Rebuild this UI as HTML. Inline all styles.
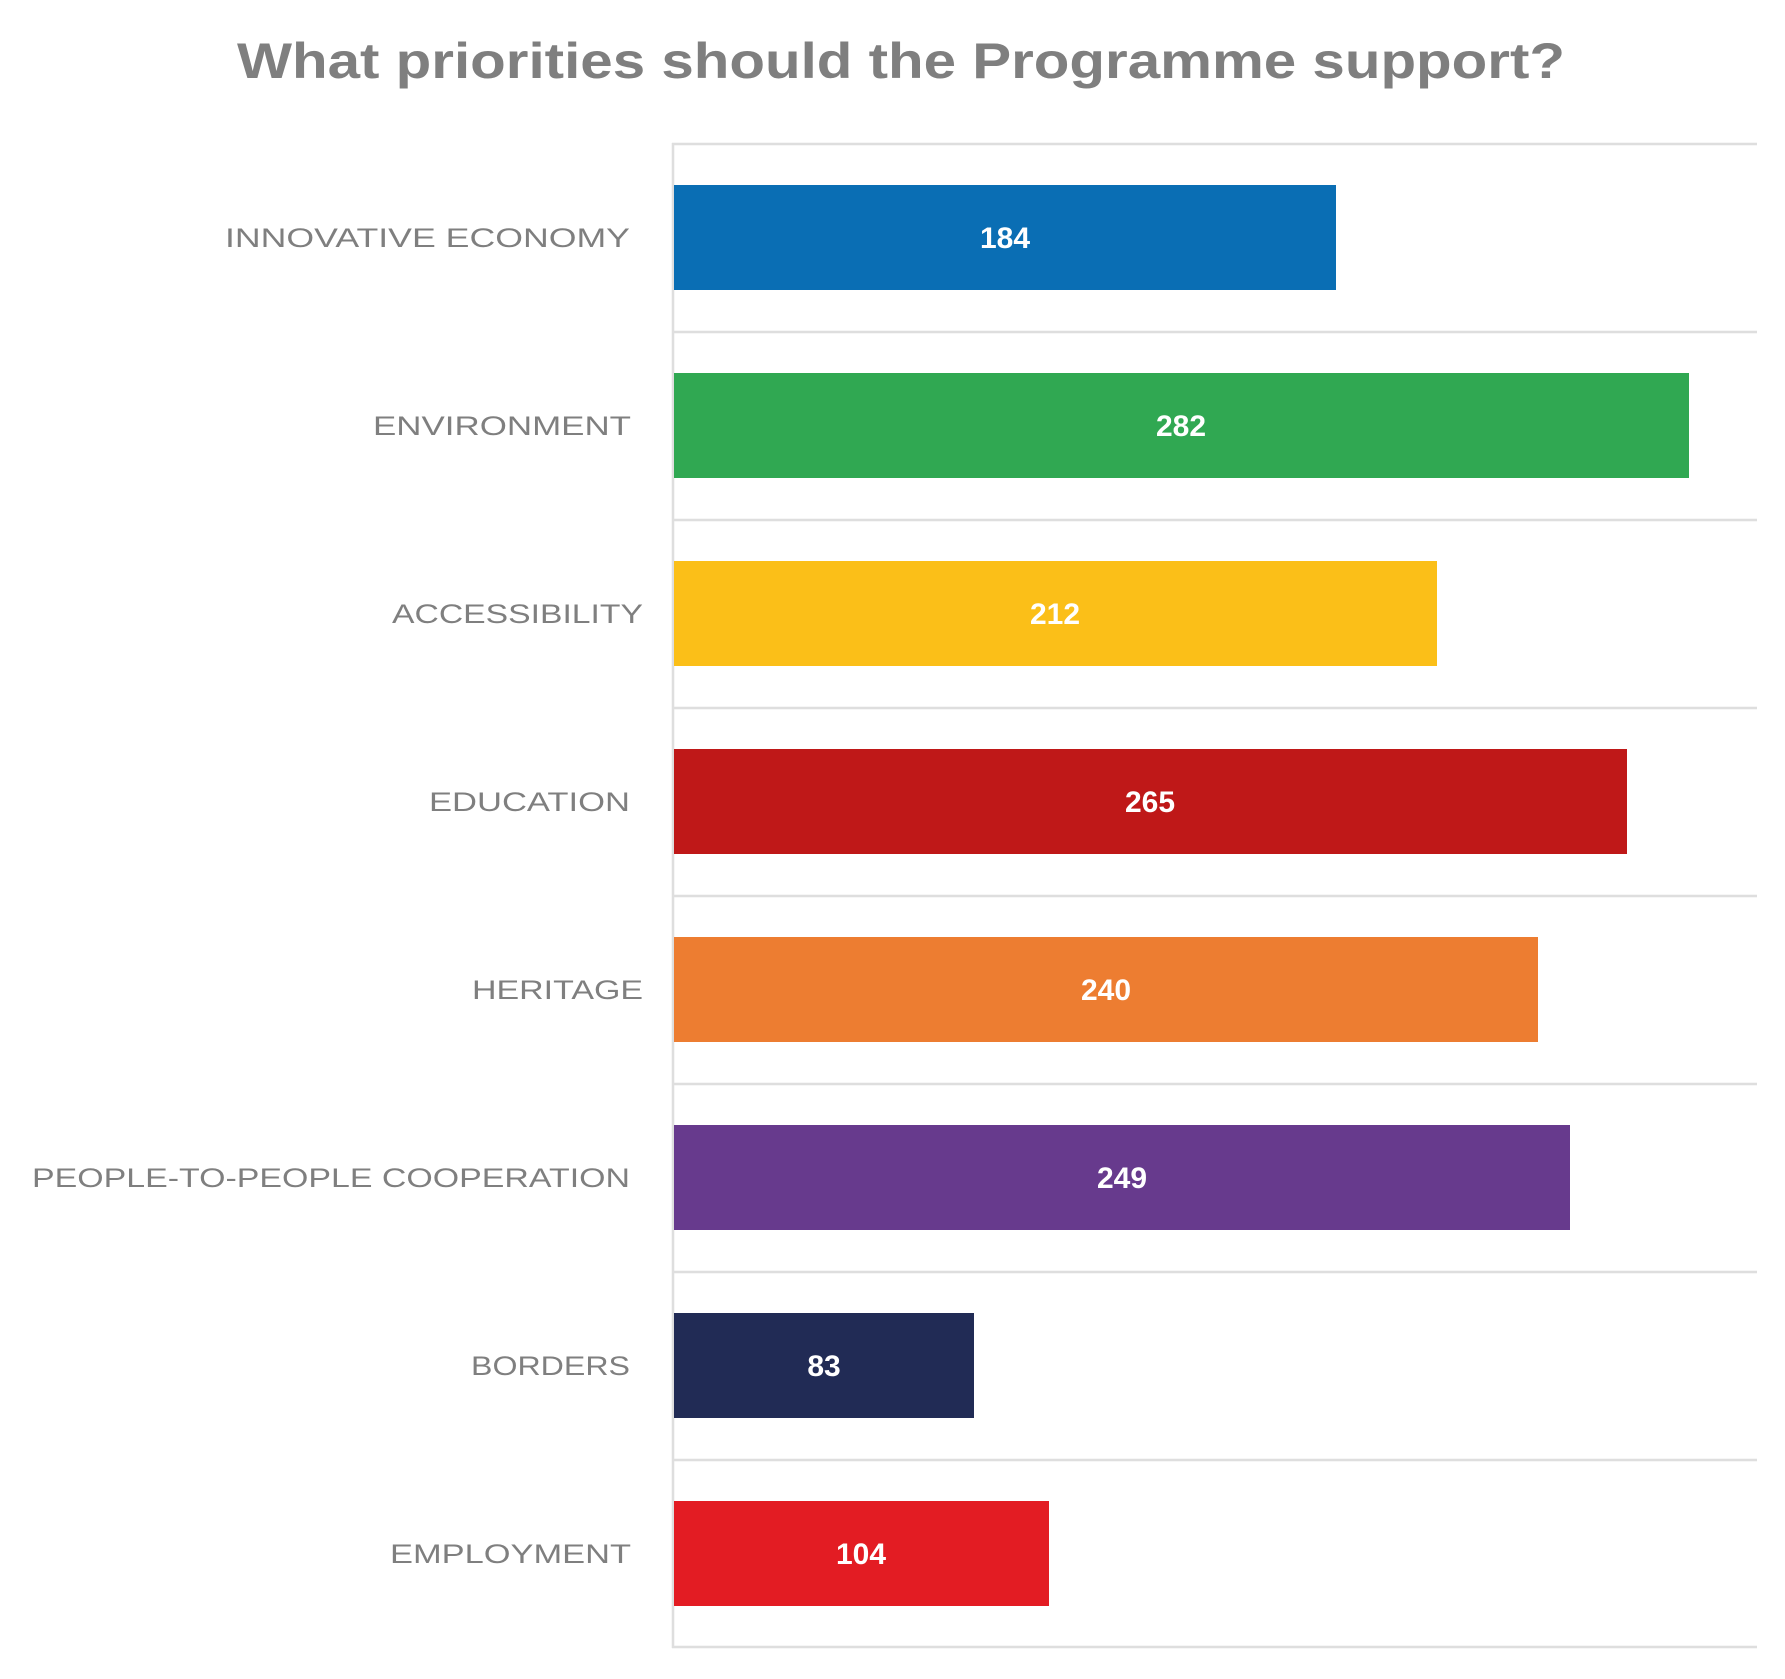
<!DOCTYPE html>
<html><head><meta charset="utf-8"><style>html,body{margin:0;padding:0;background:#fff}svg{display:block}</style></head>
<body>
<svg width="1785" height="1679" viewBox="0 0 1785 1679" xmlns="http://www.w3.org/2000/svg" font-family="'Liberation Sans', sans-serif">
<rect width="1785" height="1679" fill="#fff"/>
<text x="237" y="78" font-size="50" font-weight="bold" fill="#7f7f7f" textLength="1328" lengthAdjust="spacingAndGlyphs">What priorities should the Programme support?</text>
<g stroke="#dedede" stroke-width="2.5">
<line x1="672" y1="144" x2="1757" y2="144"/>
<line x1="672" y1="332" x2="1757" y2="332"/>
<line x1="672" y1="520" x2="1757" y2="520"/>
<line x1="672" y1="708" x2="1757" y2="708"/>
<line x1="672" y1="896" x2="1757" y2="896"/>
<line x1="672" y1="1084" x2="1757" y2="1084"/>
<line x1="672" y1="1272" x2="1757" y2="1272"/>
<line x1="672" y1="1460" x2="1757" y2="1460"/>
<line x1="672" y1="1647" x2="1757" y2="1647"/>
<line x1="673" y1="143" x2="673" y2="1648"/>
</g>
<g>
<rect x="674" y="185" width="662" height="105" fill="#0a6eb4"/>
<rect x="674" y="373" width="1015" height="105" fill="#30a852"/>
<rect x="674" y="561" width="763" height="105" fill="#fbbf18"/>
<rect x="674" y="749" width="953" height="105" fill="#bf1818"/>
<rect x="674" y="937" width="864" height="105" fill="#ed7d31"/>
<rect x="674" y="1125" width="896" height="105" fill="#673a8d"/>
<rect x="674" y="1313" width="300" height="105" fill="#212b55"/>
<rect x="674" y="1501" width="375" height="105" fill="#e31c23"/>
</g>
<g font-size="30" font-weight="bold" fill="#fff" text-anchor="middle">
<text x="1005" y="248">184</text>
<text x="1181" y="436">282</text>
<text x="1055" y="624">212</text>
<text x="1150" y="812">265</text>
<text x="1106" y="1000">240</text>
<text x="1122" y="1188">249</text>
<text x="824" y="1376">83</text>
<text x="861" y="1564">104</text>
</g>
<g font-size="27" fill="#7f7f7f">
<text x="225" y="247" textLength="405" lengthAdjust="spacingAndGlyphs">INNOVATIVE ECONOMY</text>
<text x="373" y="435" textLength="258" lengthAdjust="spacingAndGlyphs">ENVIRONMENT</text>
<text x="392" y="623" textLength="251" lengthAdjust="spacingAndGlyphs">ACCESSIBILITY</text>
<text x="429" y="811" textLength="201" lengthAdjust="spacingAndGlyphs">EDUCATION</text>
<text x="472" y="999" textLength="171" lengthAdjust="spacingAndGlyphs">HERITAGE</text>
<text x="32" y="1187" textLength="598" lengthAdjust="spacingAndGlyphs">PEOPLE-TO-PEOPLE COOPERATION</text>
<text x="471" y="1375" textLength="159" lengthAdjust="spacingAndGlyphs">BORDERS</text>
<text x="390" y="1563" textLength="241" lengthAdjust="spacingAndGlyphs">EMPLOYMENT</text>
</g>
</svg>
</body></html>
